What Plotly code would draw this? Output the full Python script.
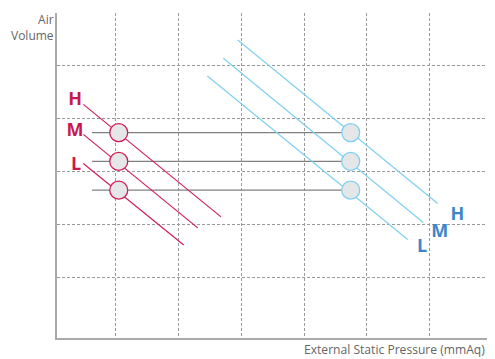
import plotly.graph_objects as go

# ---- data (chart units: vertical grid lines at x=1..6, horizontal at y=1..5) ----
speeds = ["H", "M", "L"]

# operating points (circle) per speed
op_y = [3.737, 3.193, 2.650]
red_op_x = [1.048, 1.048, 1.048]
blue_op_x = [4.742, 4.742, 4.742]
link_start_x = [0.623, 0.623, 0.623]

# red (system) curves: start/end points
red_x0 = [0.484, 0.484, 0.484]
red_y0 = [4.270, 3.703, 3.155]
red_x1 = [2.677, 2.306, 2.083]
red_y1 = [2.146, 1.938, 1.616]

# blue (fan) curves: start/end points
blue_x0 = [2.943, 2.713, 2.459]
blue_y0 = [5.486, 5.140, 4.805]
blue_x1 = [6.127, 5.898, 5.650]
blue_y1 = [2.399, 2.040, 1.718]

# label positions
red_lab_x = [0.352, 0.352, 0.368]
red_lab_y = [4.352, 3.766, 3.123]
blue_lab_x = [6.440, 6.160, 5.880]
blue_lab_y = [2.178, 1.856, 1.573]

x_ticks = [1, 2, 3, 4, 5, 6]
y_ticks = [1, 2, 3, 4, 5]
y_title = "Air<br>Volume"
x_title = "External Static Pressure (mmAq)"

RED = "#d21f58"
RED_TXT = "#c8194f"
BLUE_LINE = "#7fd0f0"
BLUE_TXT = "#3d86c8"
GRAY_LINE = "#808080"
CIRCLE_FILL = "#e5e6e7"
FONT = "Open Sans"

fig = go.Figure()

# gray horizontal links
for i in range(3):
    fig.add_trace(go.Scatter(x=[link_start_x[i], blue_op_x[i]], y=[op_y[i], op_y[i]],
                             mode="lines", line=dict(color=GRAY_LINE, width=1.1),
                             hoverinfo="skip", showlegend=False))

# red curves
for i in range(3):
    fig.add_trace(go.Scatter(x=[red_x0[i], red_x1[i]], y=[red_y0[i], red_y1[i]],
                             mode="lines", line=dict(color=RED, width=1.2),
                             hoverinfo="skip", showlegend=False))
# blue curves
for i in range(3):
    fig.add_trace(go.Scatter(x=[blue_x0[i], blue_x1[i]], y=[blue_y0[i], blue_y1[i]],
                             mode="lines", line=dict(color=BLUE_LINE, width=1.2),
                             hoverinfo="skip", showlegend=False))

# circles
fig.add_trace(go.Scatter(x=red_op_x, y=op_y, mode="markers",
                         marker=dict(size=18, color=CIRCLE_FILL, line=dict(color=RED, width=1.3)),
                         hoverinfo="skip", showlegend=False))
fig.add_trace(go.Scatter(x=blue_op_x, y=op_y, mode="markers",
                         marker=dict(size=18, color=CIRCLE_FILL, line=dict(color=BLUE_LINE, width=1.3)),
                         hoverinfo="skip", showlegend=False))

# labels
fig.add_trace(go.Scatter(x=red_lab_x, y=red_lab_y, mode="text", text=speeds,
                         textfont=dict(family=FONT, size=18, color=RED_TXT, weight="bold"),
                         hoverinfo="skip", showlegend=False))
fig.add_trace(go.Scatter(x=blue_lab_x, y=blue_lab_y, mode="text", text=speeds,
                         textfont=dict(family=FONT, size=18, color=BLUE_TXT, weight="bold"),
                         hoverinfo="skip", showlegend=False))

fig.add_annotation(text=y_title, xref="paper", yref="paper", x=0, y=1,
                   xanchor="right", yanchor="top", xshift=-1, yshift=4, showarrow=False,
                   align="right", font=dict(family=FONT, size=12, color="#666666"))
fig.add_annotation(text=x_title, xref="paper", yref="paper", x=1, y=0,
                   xanchor="right", yanchor="top", xshift=-8, yshift=-1, showarrow=False,
                   font=dict(family=FONT, size=12.1, color="#666666"))

fig.update_xaxes(range=[0.065, 7.04], tickvals=x_ticks, showticklabels=False,
                 showgrid=True, gridcolor="#9a9a9a", griddash="3px,2px", gridwidth=1,
                 zeroline=False, showline=True, linecolor="#aaaaaa", linewidth=1.5, ticks="")
fig.update_yaxes(range=[-0.142, 5.996], tickvals=y_ticks, showticklabels=False,
                 showgrid=True, gridcolor="#9a9a9a", griddash="3px,2px", gridwidth=1,
                 zeroline=False, showline=True, linecolor="#aaaaaa", linewidth=1.5, ticks="")

# page body has an 8px margin, so the figure is sized/offset to compensate
fig.update_layout(width=487, height=351, margin=dict(l=49, r=0, t=5, b=21),
                  plot_bgcolor="white", paper_bgcolor="white")

fig.write_html("out.html")
